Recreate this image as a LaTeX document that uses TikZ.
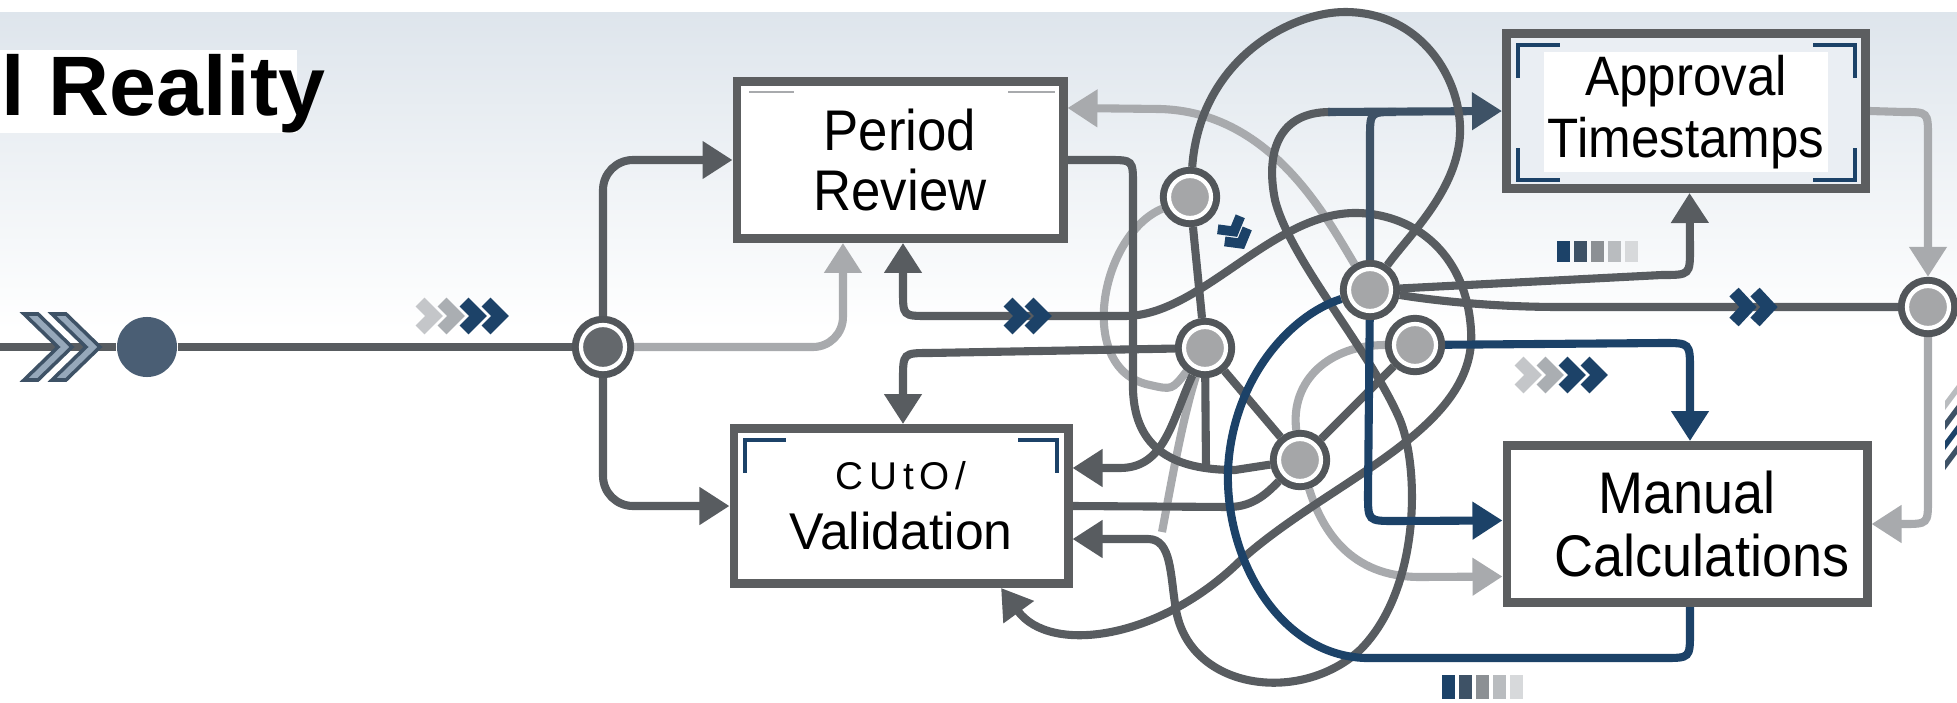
\documentclass[tikz,border=0pt]{standalone}
\usepackage{fontspec}
\setmainfont{Liberation Sans}
\newfontfamily\cardfont[FakeStretch=0.92]{Liberation Sans}
\newfontfamily\spreadfont[LetterSpace=15]{Liberation Sans}
\usepackage{tikz}
\usetikzlibrary{arrows.meta,backgrounds}
\usepackage{xcolor}
\definecolor{skyblue}{RGB}{222,229,236}
\definecolor{skylight}{RGB}{234,238,243}
\definecolor{wiregray}{RGB}{88,92,96}
\definecolor{palegray}{RGB}{168,170,173}
\definecolor{deepnavy}{RGB}{28,66,104}
\definecolor{slate}{RGB}{62,82,102}
\definecolor{boxgray}{RGB}{92,94,96}
\definecolor{hubgray}{RGB}{165,166,168}
\definecolor{ringgray}{RGB}{82,86,90}
\definecolor{forkgray}{RGB}{100,104,108}
\definecolor{entryblue}{RGB}{74,94,116}
\definecolor{chevfill}{RGB}{150,168,186}
\definecolor{chevpale}{RGB}{196,198,201}
\definecolor{chevmid}{RGB}{170,174,178}
\definecolor{barmid}{RGB}{140,144,148}
\definecolor{barlight}{RGB}{185,188,191}
\definecolor{barpale}{RGB}{215,217,219}

\tikzset{
  card/.style={draw=boxgray, line width=2.5pt, fill=white, inner sep=0pt, align=center},
  hub/.style={circle, minimum size=0.42cm, inner sep=0pt, outer sep=2.6pt, fill=hubgray, draw=white, line width=1.2pt, preaction={draw=ringgray, line width=5.2pt}},
  wire/.style={draw=wiregray, line width=2.3pt},
  pale/.style={draw=palegray, line width=2.3pt},
  navywire/.style={draw=deepnavy, line width=2.3pt},
  slatewire/.style={draw=slate, line width=2.3pt},
  bracket/.style={draw=deepnavy, line width=1pt},
  chev/.style={line width=3.6pt, line join=miter}
}

\begin{document}
\begin{tikzpicture}[x=0.01cm, y=-0.01cm, >={Triangle[length=0.3cm, width=0.36cm]}]
    \useasboundingbox (0,0) rectangle (1957,703);

    % boxes
    \node[card, minimum width=3.26cm, minimum height=1.57cm, font={\cardfont\fontsize{16.3}{17}\selectfont}] (review) at (900,160) {Period\\Review};
    \node[card, minimum width=3.34cm, minimum height=1.55cm, font={\fontsize{14.7}{17}\selectfont}] (valid) at (901,506) {{\spreadfont\fontsize{11}{13}\selectfont CUtO/}\\Validation};
    \node[card, fill=skylight, minimum width=3.59cm, minimum height=1.55cm] (approval) at (1686,111) {};
    \node[card, minimum width=3.6cm, minimum height=1.57cm, font={\cardfont\fontsize{16.7}{17.9}\selectfont}] (manual) at (1687,524) {Manual\\\hspace*{0.3cm}Calculations};

    % hubs
    \node[circle, fill=entryblue, minimum size=0.6cm, inner sep=0pt] (entry) at (147,347) {};
    \node[hub, fill=forkgray, minimum size=0.44cm] (fork) at (603,347) {};
    \node[hub] (ha) at (1190,197) {};
    \node[hub] (hb) at (1205,348) {};
    \node[hub] (hc) at (1300,460) {};
    \node[hub] (hd) at (1370,290) {};
    \node[hub] (he) at (1415,345) {};
    \node[hub] (hf) at (1928,307) {};
    \coordinate (start) at (0,347);
    \coordinate (hbfoot) at (1206,468);
    \coordinate (palejoin) at (1162,532);

    % title
    \node[font={\fontsize{24}{28}\selectfont\bfseries}, anchor=base west, inner sep=0pt] (title) at (1,115) {l Reality};

    \begin{scope}[on background layer]
    \shade[top color=skyblue, bottom color=white] (0,12) rectangle (1957,330);
    \fill[white] (0,50) rectangle (297,133);

    % input
    \draw[wire] (start) -- (entry) -- (fork);
    \foreach \x in {24,52}
        \draw[draw=slate, fill=chevfill, line width=1pt] (\x,314) -- ++(14,0) -- ++(34,33) -- ++(-34,33) -- ++(-14,0) -- ++(34,-33) -- cycle;
    \foreach \x/\c in {420/chevpale, 442/chevmid, 464/deepnavy, 486/deepnavy}
        \draw[\c, chev] (\x,302) -- ++(14,14) -- ++(-14,14);

    % pale links
    \draw[pale, rounded corners=0.3cm, ->] (fork) -| ([xshift=-0.57cm]review.south);
    \draw[pale, ->] (hd) .. controls (1325,215) and (1270,112) .. (1160,109) -- ([yshift=0.52cm]review.east);
    \draw[pale] (ha) .. controls (1100,235) and (1075,370) .. (1150,385) .. controls (1172,390) .. (hb);
    \draw[pale, ->] (hc) .. controls (1322,530) and (1350,577) .. (1420,577) -- ([yshift=-0.525cm]manual.west);
    \draw[pale] (hc) .. controls (1290,380) and (1330,345) .. (he);
    \draw[pale] (hb) .. controls (1182,420) and (1170,490) .. (palejoin);
    \draw[pale, ->] (approval.east) -- (1903,112) .. controls (1928,112) .. (1928,137) -- (hf);
    \draw[pale, ->] (hf) -- (1928,499) .. controls (1928,524) .. (1903,524) -- (manual.east);

    % dark links
    \draw[wire, rounded corners=0.3cm, ->] (fork) |- (review);
    \draw[wire, rounded corners=0.3cm, ->] (fork) |- (valid);
    \draw[wire] (review.east) -- (1108,160) .. controls (1133,160) .. (1133,185) -- (1133,390) .. controls (1135,450) and (1175,470) .. (1235,470) -- (hc);
    \draw[wire, <->] ([xshift=1cm]valid.south) .. controls (1050,655) and (1160,640) .. (1241,560) .. controls (1330,480) and (1478,430) .. (1471,330) .. controls (1466,250) and (1410,212) .. (1353,213) .. controls (1270,215) and (1200,316) .. (1125,316) -- (928,316) .. controls (903,316) .. (903,291) -- ([xshift=0.03cm]review.south);
    \draw[wire, <-] ([yshift=-0.33cm]valid.east) -- (1148,539) .. controls (1172,539) and (1170,575) .. (1176,610) .. controls (1190,690) and (1300,705) .. (1360,650) .. controls (1420,590) and (1420,470) .. (1400,420) .. controls (1370,350) and (1290,260) .. (1275,200) .. controls (1265,150) and (1280,112) .. (1330,112);
    \draw[slatewire, ->] (1328,112) -- (approval.west);
    \draw[slatewire] (hd) -- (1370,138) .. controls (1370,112) .. (1396,112);
    \draw[wire, ->] (hb) -- (930,353) .. controls (903,353) .. (903,380) -- ([xshift=0.02cm]valid.north);
    \draw[wire, ->] (hb) .. controls (1172,420) and (1165,468) .. (1120,468) -- ([yshift=0.38cm]valid.east);
    \draw[wire] (valid.east) -- (1229,507) .. controls (1255,507) and (1270,490) .. (hc);
    \draw[wire] (hb) -- (hbfoot);
    \draw[wire] (ha) -- (hb);
    \draw[wire] (hb) -- (hc);
    \draw[wire] (hc) -- (he);
    \draw[wire] (ha) .. controls (1200,60) and (1290,12) .. (1345,12) .. controls (1430,12) and (1470,95) .. (1458,150) .. controls (1448,200) and (1405,240) .. (hd);
    \draw[wire, ->] (hd) -- (1662,275) .. controls (1690,275) .. (1690,248) -- ([xshift=0.035cm]approval.south);
    \draw[wire] (hd) .. controls (1430,300) and (1490,307) .. (1560,307) -- (hf);

    % navy links
    \draw[navywire, ->] (he) -- (1663,343) .. controls (1690,343) .. (1690,370) -- ([xshift=0.03cm]manual.north);
    \draw[navywire, ->] (hd) -- (1368,494) .. controls (1368,521) .. (1395,521) -- ([yshift=0.035cm]manual.west);
    \draw[navywire] ([xshift=0.03cm]manual.south) -- (1690,632) .. controls (1690,658) .. (1664,658) -- (1365,658) .. controls (1280,655) and (1225,560) .. (1228,470) .. controls (1232,380) and (1290,315) .. (hd);

    % markers
    \foreach \x in {1008,1029}
        \draw[deepnavy, chev] (\x,302) -- ++(14,14) -- ++(-14,14);
    \foreach \x in {1734,1755}
        \draw[deepnavy, chev] (\x,292) -- ++(14,15) -- ++(-14,15);
    \foreach \x/\c in {1519/chevpale, 1541/chevmid, 1563/deepnavy, 1585/deepnavy}
        \draw[\c, chev] (\x,361) -- ++(14,14) -- ++(-14,14);
    \foreach \d in {0,14}
        \draw[deepnavy, line width=2.8pt, shift={(1232,228)}, rotate=-60] (\d-6,-13) -- (\d+4,0) -- (\d-6,13);
    \foreach \x/\c in {1557/deepnavy, 1574/slate, 1591/barmid, 1608/barlight, 1625/barpale}
        \fill[\c] (\x,241) rectangle ++(13,21);
    \foreach \x/\c in {1442/deepnavy, 1459/slate, 1476/barmid, 1493/barlight, 1510/barpale}
        \fill[\c] (\x,675) rectangle ++(13,24);
    \foreach \y/\c in {385/barlight, 405/slate, 425/deepnavy, 445/slate}
        \fill[\c] (1945,\y+16) -- (1957,\y) -- (1957,\y+9) -- (1945,\y+25) -- cycle;
    \end{scope}

    % box corners
    \draw[pale, line width=0.6pt] (749,92) -- (794,92);
    \draw[pale, line width=0.6pt] (1008,92) -- (1055,92);
    \draw[bracket] (745,473) -- (745,440) -- (786,440);
    \draw[bracket] (1018,440) -- (1057,440) -- (1057,473);
    \draw[bracket] (1518,78) -- (1518,45) -- (1560,45);
    \draw[bracket] (1813,45) -- (1855,45) -- (1855,78);
    \draw[bracket] (1518,148) -- (1518,180) -- (1560,180);
    \draw[bracket] (1813,180) -- (1855,180) -- (1855,148);
    \node[fill=white, inner sep=1pt, align=center, font={\cardfont\fontsize{15.8}{17.6}\selectfont}] (approvaltext) at (1686,112) {Approval\\Timestamps};
\end{tikzpicture}
\end{document}
